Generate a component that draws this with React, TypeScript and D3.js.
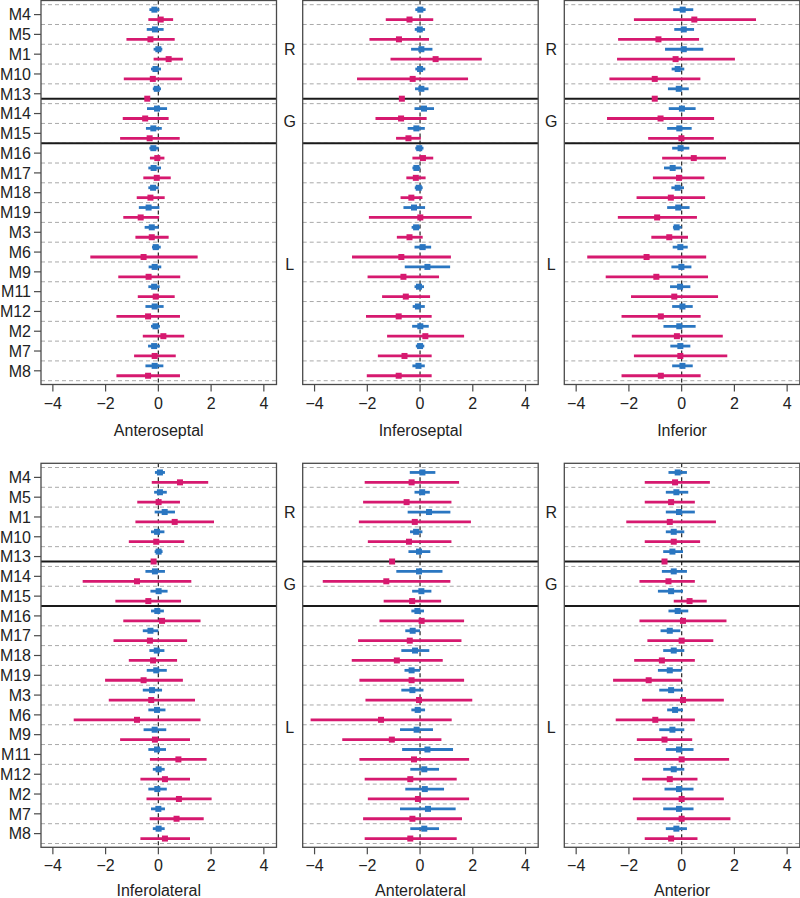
import React from 'react';
import * as d3 from 'd3';

// ---------- data ----------
const rowLabels = ['M4', 'M5', 'M1', 'M10', 'M13', 'M14', 'M15', 'M16', 'M17', 'M18', 'M19', 'M3', 'M6', 'M9', 'M11', 'M12', 'M2', 'M7', 'M8'];
const groupLabels = ['R', 'G', 'L'];
const groupBreaks = [9.5, 14]; // slot positions of the group separators
const xTicks = [-4, -2, 0, 2, 4];
const regionTitles = ['Anteroseptal', 'Inferoseptal', 'Inferior', 'Inferolateral', 'Anterolateral', 'Anterior'];

// [estimate, lower, upper]
const anteroseptalBlue = [
  [-0.15, -0.34, 0.04], [-0.13, -0.44, 0.2], [0, -0.18, 0.15], [-0.11, -0.28, 0.1], [-0.06, -0.21, 0.1],
  [-0.05, -0.43, 0.33], [-0.19, -0.47, 0.13], [-0.19, -0.34, 0.01], [-0.18, -0.38, 0.1], [-0.2, -0.38, 0.01],
  [-0.37, -0.74, 0.04], [-0.25, -0.52, 0.01], [-0.1, -0.24, 0.09], [-0.14, -0.37, 0.11], [-0.16, -0.38, 0.05],
  [-0.14, -0.49, 0.2], [-0.11, -0.28, 0.06], [-0.16, -0.39, 0.06], [-0.14, -0.49, 0.19],
];
const anteroseptalPink = [
  [0.09, -0.38, 0.56], [-0.3, -1.21, 0.62], [0.39, -0.18, 0.93], [-0.21, -1.31, 0.9], [-0.42, -0.42, -0.42],
  [-0.5, -1.35, 0.39], [-0.33, -1.45, 0.81], [-0.04, -0.32, 0.23], [-0.06, -0.57, 0.47], [-0.3, -0.82, 0.24],
  [-0.67, -1.33, 0.03], [-0.25, -0.87, 0.39], [-0.56, -2.58, 1.49], [-0.37, -1.52, 0.83], [-0.1, -0.78, 0.62],
  [-0.39, -1.59, 0.82], [0.19, -0.59, 0.98], [-0.14, -0.92, 0.66], [-0.39, -1.59, 0.82],
];
const inferoseptalBlue = [
  [0.01, -0.18, 0.21], [-0.01, -0.2, 0.19], [0.05, -0.34, 0.47], [0, -0.18, 0.2], [0.05, -0.19, 0.32],
  [0.15, -0.21, 0.53], [-0.14, -0.47, 0.18], [-0.03, -0.18, 0.13], [-0.14, -0.29, 0.01], [-0.05, -0.2, 0.1],
  [-0.23, -0.63, 0.19], [-0.15, -0.32, 0], [0.1, -0.21, 0.42], [0.28, -0.58, 1.14], [-0.04, -0.21, 0.15],
  [-0.08, -0.28, 0.18], [0.01, -0.3, 0.33], [0, -0.16, 0.16], [-0.06, -0.29, 0.18],
];
const inferoseptalPink = [
  [-0.4, -1.3, 0.5], [-0.8, -1.92, 0.34], [0.59, -1.12, 2.34], [-0.28, -2.39, 1.82], [-0.69, -0.69, -0.69],
  [-0.72, -1.69, 0.25], [-0.44, -0.91, 0.03], [0.11, -0.29, 0.5], [-0.16, -0.52, 0.21], [-0.33, -0.74, 0.09],
  [0.01, -1.94, 1.96], [-0.4, -0.88, 0.1], [-0.71, -2.58, 1.17], [-0.63, -1.99, 0.72], [-0.54, -1.44, 0.38],
  [-0.81, -2.05, 0.44], [0.2, -1.25, 1.67], [-0.59, -1.6, 0.44], [-0.81, -2.02, 0.44],
];
const inferiorBlue = [
  [0.04, -0.32, 0.44], [0.08, -0.28, 0.47], [0.08, -0.63, 0.82], [-0.15, -0.38, 0.1], [-0.11, -0.52, 0.27],
  [0.01, -0.49, 0.53], [-0.09, -0.55, 0.38], [-0.04, -0.36, 0.29], [-0.34, -0.67, 0], [-0.15, -0.39, 0.09],
  [-0.13, -0.55, 0.3], [-0.19, -0.33, 0], [-0.05, -0.34, 0.23], [-0.01, -0.39, 0.37], [-0.06, -0.44, 0.33],
  [0.03, -0.36, 0.42], [-0.09, -0.69, 0.53], [-0.05, -0.43, 0.33], [0.03, -0.36, 0.42],
];
const inferiorPink = [
  [0.48, -1.81, 2.82], [-0.88, -2.41, 0.66], [-0.23, -2.45, 2.02], [-1.02, -2.74, 0.71], [-1.02, -1.02, -1.02],
  [-0.8, -2.83, 1.23], [-0.01, -1.27, 1.22], [0.46, -0.74, 1.68], [-0.1, -1.09, 0.86], [-0.41, -1.71, 0.89],
  [-0.93, -2.42, 0.58], [-0.47, -1.15, 0.24], [-1.33, -3.58, 0.93], [-0.96, -2.88, 1.0], [-0.28, -1.92, 1.38],
  [-0.79, -2.28, 0.72], [-0.18, -1.89, 1.56], [-0.05, -1.81, 1.73], [-0.79, -2.28, 0.72],
];
const inferolateralBlue = [
  [0.06, -0.13, 0.25], [0.06, -0.16, 0.32], [0.24, -0.14, 0.63], [-0.05, -0.28, 0.23], [0.01, -0.14, 0.16],
  [-0.13, -0.49, 0.25], [0.01, -0.3, 0.35], [-0.04, -0.28, 0.21], [-0.3, -0.59, 0], [-0.06, -0.34, 0.23],
  [-0.08, -0.44, 0.32], [-0.24, -0.59, 0.14], [-0.05, -0.38, 0.27], [-0.14, -0.56, 0.3], [-0.05, -0.38, 0.29],
  [0.01, -0.21, 0.24], [-0.04, -0.38, 0.32], [0, -0.28, 0.25], [0.01, -0.21, 0.24],
];
const inferolateralPink = [
  [0.82, -0.25, 1.89], [0.01, -0.8, 0.82], [0.62, -0.87, 2.11], [-0.08, -1.12, 0.98], [-0.18, -0.18, -0.18],
  [-0.81, -2.87, 1.25], [-0.38, -1.63, 0.86], [0.14, -1.33, 1.6], [-0.32, -1.7, 1.09], [-0.2, -1.12, 0.71],
  [-0.56, -2.02, 0.93], [-0.27, -1.88, 1.39], [-0.81, -3.21, 1.6], [-0.13, -1.45, 1.2], [0.76, -0.32, 1.83],
  [0.25, -0.68, 1.2], [0.78, -0.45, 2.02], [0.69, -0.33, 1.72], [0.25, -0.68, 1.2],
];
const anterolateralBlue = [
  [0.09, -0.39, 0.58], [0.08, -0.21, 0.37], [0.34, -0.47, 1.15], [-0.15, -0.38, 0.09], [-0.04, -0.44, 0.39],
  [-0.04, -0.9, 0.85], [0.05, -0.3, 0.43], [-0.1, -0.33, 0.15], [-0.28, -0.56, 0], [-0.19, -0.71, 0.35],
  [-0.32, -0.59, 0], [-0.29, -0.71, 0.13], [-0.09, -0.33, 0.19], [-0.13, -0.76, 0.49], [0.28, -0.68, 1.25],
  [0.16, -0.37, 0.72], [0.18, -0.56, 0.91], [0.3, -0.76, 1.35], [0.16, -0.37, 0.72],
];
const anterolateralPink = [
  [-0.32, -2.1, 1.48], [-0.51, -2.16, 1.19], [-0.2, -2.32, 1.93], [-0.42, -1.98, 1.19], [-1.06, -1.06, -1.06],
  [-1.28, -3.69, 1.15], [-0.3, -1.38, 0.8], [0.06, -1.54, 1.67], [-0.39, -2.35, 1.57], [-0.88, -2.59, 0.86],
  [-0.32, -2.3, 1.67], [-0.04, -2.07, 1.98], [-1.48, -4.15, 1.2], [-1.07, -2.95, 0.81], [-0.23, -2.3, 1.86],
  [-0.37, -2.1, 1.39], [-0.08, -1.98, 1.86], [-0.29, -2.16, 1.59], [-0.37, -2.1, 1.39],
];
const anteriorBlue = [
  [-0.15, -0.5, 0.2], [-0.2, -0.6, 0.25], [-0.1, -0.6, 0.5], [-0.3, -0.6, 0.1], [-0.35, -0.7, 0.05],
  [-0.3, -0.75, 0.2], [-0.4, -0.9, 0.05], [-0.15, -0.5, 0.25], [-0.45, -0.8, -0.05], [-0.3, -0.7, 0.1],
  [-0.45, -0.9, 0], [-0.4, -0.85, 0.05], [-0.25, -0.55, 0.05], [-0.35, -0.85, 0.1], [-0.1, -0.6, 0.45],
  [-0.3, -0.7, 0.1], [-0.1, -0.65, 0.45], [-0.1, -0.7, 0.45], [-0.2, -0.6, 0.2],
];
const anteriorPink = [
  [-0.25, -1.4, 1.07], [-0.4, -1.4, 0.5], [-0.45, -2.1, 1.3], [-0.3, -1.4, 0.7], [-0.65, -0.65, -0.65],
  [-0.5, -1.6, 0.5], [0.3, -0.3, 0.95], [0.05, -1.6, 1.7], [0, -1.3, 1.2], [-0.75, -1.8, 0.5],
  [-1.25, -2.6, 0], [0.05, -1.5, 1.6], [-1.0, -2.5, 0.5], [-0.65, -1.7, 0.4], [0, -1.8, 1.8],
  [-0.45, -1.5, 0.6], [0, -1.85, 1.6], [0, -1.7, 1.85], [-0.4, -1.4, 0.6],
];

const panelBlue = [anteroseptalBlue, inferoseptalBlue, inferiorBlue, inferolateralBlue, anterolateralBlue, anteriorBlue];
const panelPink = [anteroseptalPink, inferoseptalPink, inferiorPink, inferolateralPink, anterolateralPink, anteriorPink];

// ---------- layout ----------
const W = 800;
const H = 898;
const panelLefts = [41, 302.7, 564.3];
const panelTops = [0.5, 463.3];
const titleOffsets = [51, 48.5];
const panelW = 235.5;
const panelH = 384;
const BLUE = '#2a76c1';
const PINK = '#d6196f';
const FONT = '"Liberation Sans", Arial, Helvetica, sans-serif';

function Panel({ idx }: { idx: number }) {
  const col = idx % 3;
  const rowI = Math.floor(idx / 3);
  const left = panelLefts[col];
  const top = panelTops[rowI];
  const x = d3.scaleLinear().domain([-4.45, 4.48]).range([left, left + panelW]);
  const y = d3.scaleLinear().domain([0, 38]).range([top + 4.2, top + 380.2]);
  const bottom = top + panelH;
  const blue = panelBlue[idx];
  const pink = panelPink[idx];
  const dashedSlots = d3.range(0, 39, 2);
  const groupBounds = [-0.45, ...groupBreaks, 38.4];
  const fmt = d3.format('d');

  return (
    <g>
      {dashedSlots.map((s) => (
        <line key={'d' + s} x1={left} x2={left + panelW} y1={y(s)} y2={y(s)}
          stroke="#a9a9a9" strokeWidth={1} strokeDasharray="4,3" />
      ))}
      <line x1={x(0)} x2={x(0)} y1={top} y2={bottom} stroke="#333" strokeWidth={1.3} strokeDasharray="4,3" />
      {groupBreaks.map((b) => (
        <line key={'g' + b} x1={left} x2={left + panelW} y1={y(b)} y2={y(b)} stroke="#1a1a1a" strokeWidth={2} />
      ))}
      {rowLabels.map((lab, i) => {
        const b = blue[i];
        const p = pink[i];
        const yb = y(2 * i + 0.5);
        const yp = y(2 * i + 1.5);
        return (
          <g key={lab}>
            <line x1={x(b[1])} x2={x(b[2])} y1={yb} y2={yb} stroke={BLUE} strokeWidth={2.8} />
            <rect x={x(b[0]) - 3} y={yb - 3} width={6} height={6} fill={BLUE} />
            <line x1={x(p[1])} x2={x(p[2])} y1={yp} y2={yp} stroke={PINK} strokeWidth={2.8} />
            <rect x={x(p[0]) - 3} y={yp - 3} width={6} height={6} fill={PINK} />
          </g>
        );
      })}
      <rect x={left} y={top} width={panelW} height={panelH} fill="none" stroke="#4a4a4a" strokeWidth={1.3} />
      {xTicks.map((t) => (
        <g key={'t' + t}>
          <line x1={x(t)} x2={x(t)} y1={bottom} y2={bottom + 7} stroke="#4a4a4a" strokeWidth={1.2} />
          <text x={x(t)} y={bottom + 24} textAnchor="middle" fontSize={16} fontFamily={FONT} fill="#222">
            {fmt(t)}
          </text>
        </g>
      ))}
      <text x={left + panelW / 2} y={bottom + titleOffsets[rowI]} textAnchor="middle" fontSize={16} fontFamily={FONT} fill="#222">
        {regionTitles[idx]}
      </text>
      {col === 0 &&
        rowLabels.map((lab, i) => (
          <g key={'l' + lab}>
            <line x1={left - 7} x2={left} y1={y(2 * i + 1)} y2={y(2 * i + 1)} stroke="#4a4a4a" strokeWidth={1.2} />
            <text x={left - 10} y={y(2 * i + 1)} dy="0.36em" textAnchor="end" fontSize={16} fontFamily={FONT} fill="#222">
              {lab}
            </text>
          </g>
        ))}
      {col > 0 &&
        groupLabels.map((g, gi) => (
          <text key={'gl' + g} x={left - 13} y={y((groupBounds[gi] + groupBounds[gi + 1]) / 2)} dy="0.36em"
            textAnchor="middle" fontSize={16} fontFamily={FONT} fill="#222">
            {g}
          </text>
        ))}
    </g>
  );
}

export default function App() {
  return (
    <svg width={W} height={H} style={{ position: 'absolute', left: 0, top: 0, background: '#fff' }}>
      <rect x={0} y={0} width={W} height={H} fill="#fff" />
      {d3.range(6).map((i) => (
        <Panel key={i} idx={i} />
      ))}
    </svg>
  );
}
